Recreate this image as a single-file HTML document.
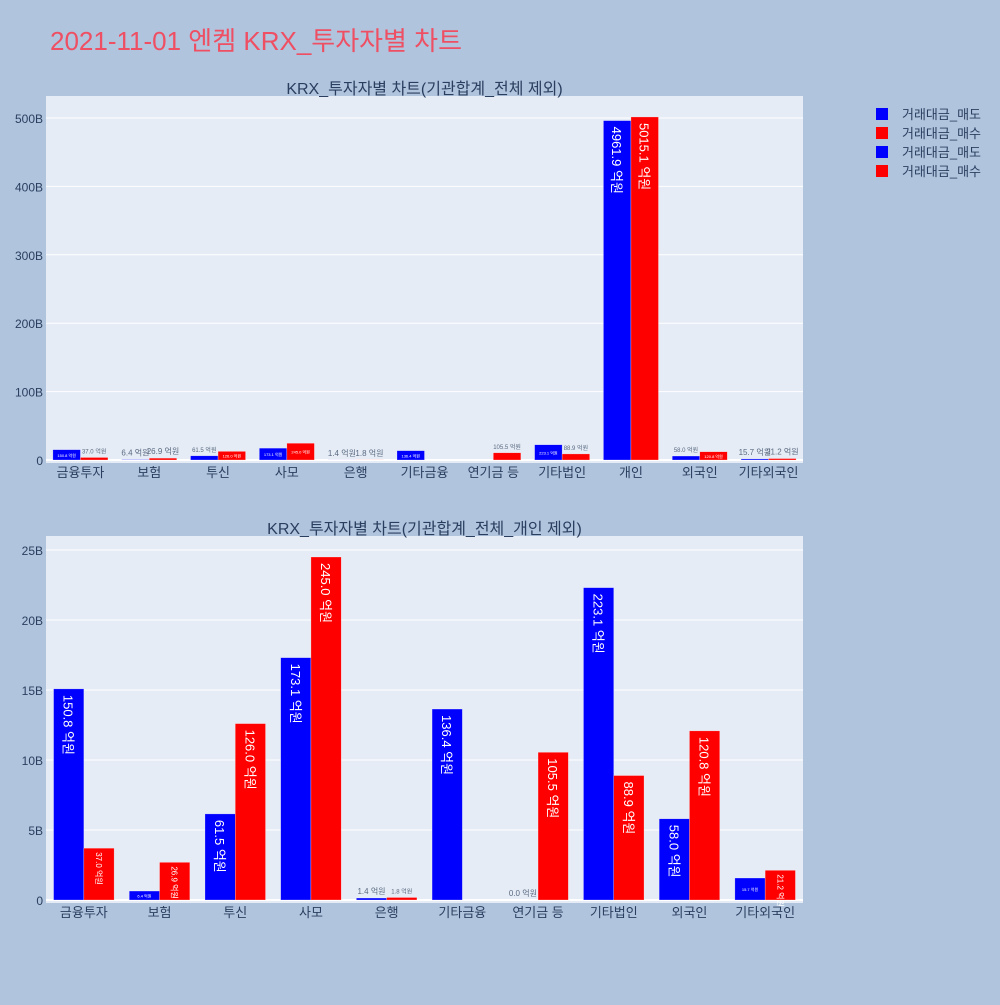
<!DOCTYPE html>
<html><head><meta charset="utf-8">
<style>
body{margin:0;background:#b0c4de;font-family:"Liberation Sans","Noto Sans CJK KR",sans-serif;}
svg text{font-family:"Liberation Sans","Noto Sans CJK KR",sans-serif;}
</style></head>
<body>
<svg id="c" width="1000" height="1000" xmlns="http://www.w3.org/2000/svg">
<rect width="1000" height="1000" fill="#b0c4de"/>
<text x="50" y="50" font-size="26" fill="#ef4f63">2021-11-01 엔켐 KRX_투자자별 차트</text>
<g id="legend">
<g><rect x="876" y="108" width="12" height="12" fill="#0000ff"/><text x="902" y="119" font-size="13" fill="#2a3f5f">거래대금_매도</text></g>
<g><rect x="876" y="127" width="12" height="12" fill="#ff0000"/><text x="902" y="138" font-size="13" fill="#2a3f5f">거래대금_매수</text></g>
<g><rect x="876" y="146" width="12" height="12" fill="#0000ff"/><text x="902" y="157" font-size="13" fill="#2a3f5f">거래대금_매도</text></g>
<g><rect x="876" y="165" width="12" height="12" fill="#ff0000"/><text x="902" y="176" font-size="13" fill="#2a3f5f">거래대금_매수</text></g>
</g>
</svg>
<script>
const cats1 = ["금융투자","보험","투신","사모","은행","기타금융","연기금 등","기타법인","개인","외국인","기타외국인"];
const sell1 = [150.8,6.4,61.5,173.1,1.4,136.4,null,223.1,4961.9,58.0,15.7];
const buy1 = [37.0,26.9,126.0,245.0,1.8,null,105.5,88.9,5015.1,120.8,21.2];
const ticks1 = [0,100,200,300,400,500];
const cats2 = ["금융투자","보험","투신","사모","은행","기타금융","연기금 등","기타법인","외국인","기타외국인"];
const sell2 = [150.8,6.4,61.5,173.1,1.4,136.4,0.0,223.1,58.0,15.7];
const buy2 = [37.0,26.9,126.0,245.0,1.8,null,105.5,88.9,120.8,21.2];
const ticks2 = [0,5,10,15,20,25];

const NS="http://www.w3.org/2000/svg";
const svg=document.getElementById('c');
function mk(tag,attrs,parent){const e=document.createElementNS(NS,tag);for(const k in attrs)e.setAttribute(k,attrs[k]);(parent||svg).appendChild(e);return e;}

function chart(cfg){
  const g=mk('g',{});
  
  
  const bg=mk('rect',{x:cfg.x0,y:cfg.top,width:cfg.x1-cfg.x0,height:cfg.bottom-cfg.top,fill:'#e5ecf6'},g);
  
  
  const yS=v=>cfg.y0-v*cfg.pxPerUnit;
  cfg.ticks.forEach(t=>{
    const ln=mk('line',{x1:cfg.x0,x2:cfg.x1,y1:yS(t),y2:yS(t),stroke:'#fff','stroke-width':t===0?2:1},g);
    
    
    const tx=mk('text',{x:cfg.x0-3,y:yS(t)+5,'text-anchor':'end','font-size':12,fill:'#2a3f5f'},g);
    tx.textContent=t===0?'0':t+'B';
    
    
  });
  const n=cfg.cats.length, band=(cfg.x1-cfg.x0)/n, bw=band*0.4;
  const title=mk('text',{x:(cfg.x0+cfg.x1)/2,y:cfg.top-2,'text-anchor':'middle','font-size':16,fill:'#2a3f5f'},g);
  title.textContent=cfg.title;
  
  
  cfg.cats.forEach((c,i)=>{
    const cx=cfg.x0+band*(i+0.5);
    const lb=mk('text',{x:cx,y:cfg.bottom+14,'text-anchor':'middle','font-size':13,fill:'#2a3f5f'},g);
    lb.textContent=c;
    
    
    [[cfg.sell[i],'#0000ff',cx-bw,'bar-sell'],[cfg.buy[i],'#ff0000',cx,'bar-buy']].forEach(([v,col,bx,nm])=>{
      if(v===null)return;
      const val=v/cfg.div;
      const h=Math.max(val*cfg.pxPerUnit,0);
      const r=mk('rect',{x:bx,y:cfg.y0-h,width:bw,height:h,fill:col,stroke:'rgba(255,255,255,0.5)','stroke-width':0.5},g);
      
      
      const label=v.toFixed(1)+' 억원';
      const t=mk('text',{},g);
      t.textContent=label;
      
      
      if(h>70){
        const tx=bx+bw/2-5, ty=cfg.y0-h+6;
        t.setAttribute('transform',`translate(${tx},${ty}) rotate(90)`);
        t.setAttribute('font-size',13);t.setAttribute('fill','#fff');
      }else if(h>25){
        const tx=bx+bw/2-3, ty=cfg.y0-h+4;
        t.setAttribute('transform',`translate(${tx},${ty}) rotate(90)`);
        t.setAttribute('font-size',8);t.setAttribute('fill','#fff');
      }else if(h>8){
        t.setAttribute('x',bx+bw/2);t.setAttribute('y',cfg.y0-h/2+2);t.setAttribute('text-anchor','middle');
        t.setAttribute('font-size',4);t.setAttribute('fill','#fff');
      }else{
        t.setAttribute('x',bx+bw/2);t.setAttribute('y',cfg.y0-h-4);t.setAttribute('text-anchor','middle');
        t.setAttribute('font-size',h>2?6:8);t.setAttribute('fill','#5a6a80');
      }
    });
  });
}
chart({name:'chart-top',title:'KRX_투자자별 차트(기관합계_전체 제외)',cats:cats1,sell:sell1,buy:buy1,ticks:ticks1,
  x0:46,x1:803,top:96,bottom:463,y0:460,pxPerUnit:0.684,div:10});
chart({name:'chart-bottom',title:'KRX_투자자별 차트(기관합계_전체_개인 제외)',cats:cats2,sell:sell2,buy:buy2,ticks:ticks2,
  x0:46,x1:803,top:536,bottom:903,y0:900,pxPerUnit:14,div:10});
</script>
</body></html>
